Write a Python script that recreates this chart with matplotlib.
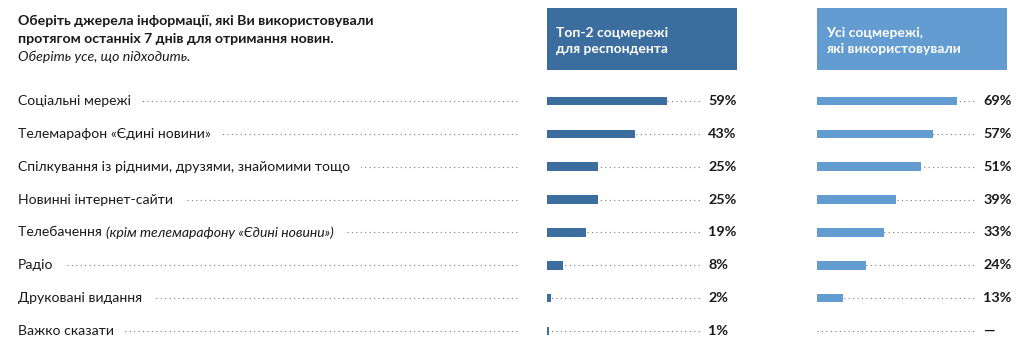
import matplotlib
matplotlib.use("Agg")
import matplotlib.pyplot as plt
from matplotlib.patches import Rectangle
import numpy as np

plt.rcParams["font.family"] = ["Lato", "DejaVu Sans"]

# ---------------- data ----------------
categories = [
    "Соціальні мережі",
    "Телемарафон «Єдині новини»",
    "Спілкування із рідними, друзями, знайомими тощо",
    "Новинні інтернет-сайти",
    "Телебачення",
    "Радіо",
    "Друковані видання",
    "Важко сказати",
]
top2 = [59, 43, 25, 25, 19, 8, 2, 1]
all_used = [69, 57, 51, 39, 33, 24, 13, np.nan]
header_left = "Топ-2 соцмережі\nдля респондента"
header_right = "Усі соцмережі,\nякі використовували"

DARK = "#3b6e9f"
LIGHT = "#639cd0"
DOT = "#7a7a7a"
TXT = "#1a1a1a"

W, H = 1024, 353
fig = plt.figure(figsize=(W / 100, H / 100), dpi=100)


def fx(px):
    return px / W


def fy(py):
    return 1 - py / H


# rows occupy the same vertical band in every axes
top_px, bot_px = 84.5, 347.5
n = len(categories)
LAB_FS = 10.1


def make_ax(x0, x1):
    ax = fig.add_axes([fx(x0), fy(bot_px), fx(x1) - fx(x0), (bot_px - top_px) / H])
    ax.set_ylim(n - 0.5, -0.5)
    ax.axis("off")
    return ax


# ---------------- title ----------------
fig.text(fx(18), fy(21), "Оберіть джерела інформації, які Ви використовували",
         fontsize=10.2, fontweight="bold", color=TXT, va="center")
fig.text(fx(18), fy(39), "протягом останніх 7 днів для отримання новин.",
         fontsize=10.2, fontweight="bold", color=TXT, va="center")
fig.text(fx(18), fy(57), "Оберіть усе, що підходить.",
         fontsize=10.2, style="italic", color=TXT, va="center")

# ---------------- labels column ----------------
ax_lab = make_ax(18, 520)
ax_lab.set_xlim(0, 1)
fig.canvas.draw()
for i, cat in enumerate(categories):
    ax_lab.plot([0, 1], [i, i], color=DOT, lw=0.8, ls=(0, (1, 3)), zorder=1)
    if cat == "Телебачення":
        t = ax_lab.text(0, i, cat + " ", fontsize=LAB_FS, color=TXT, va="center", zorder=4,
                        bbox=dict(facecolor="white", edgecolor="none", boxstyle="square,pad=0"))
        bb = t.get_window_extent(fig.canvas.get_renderer()).transformed(ax_lab.transData.inverted())
        ax_lab.text(bb.x1, i, "(крім телемарафону «Єдині новини»)", fontsize=LAB_FS,
                    style="italic", color=TXT, va="center", zorder=3,
                    bbox=dict(facecolor="white", edgecolor="none", boxstyle="square,pad=0.8"))
    else:
        ax_lab.text(0, i, cat, fontsize=LAB_FS, color=TXT, va="center", zorder=3,
                    bbox=dict(facecolor="white", edgecolor="none", boxstyle="square,pad=0.8"))


# ---------------- bar panels ----------------
def panel(x0, x1, box_x1, values, color, header):
    px_per_pct = 2.035
    ax = make_ax(x0, x1)
    ax.set_xlim(0, (x1 - x0) / px_per_pct)
    y = np.arange(n)
    for i in range(n):
        ax.plot([0, ax.get_xlim()[1]], [i, i], color=DOT, lw=0.8, ls=(0, (1, 3)), zorder=1)
    vals = np.array(values, dtype=float)
    ax.barh(y, np.nan_to_num(vals), height=0.26, color=color, zorder=2)
    for i, v in enumerate(vals):
        lab = "—" if np.isnan(v) else f"{int(v)}%"
        ax.annotate(lab, xy=(1, i), xycoords=("axes fraction", "data"),
                    xytext=(6, 0), textcoords="offset points",
                    fontsize=10.4, fontweight="bold", color=TXT, va="center", ha="left")
    # header box
    fig.patches.append(Rectangle((fx(x0), fy(70)), fx(box_x1) - fx(x0), (70 - 8) / H,
                                 transform=fig.transFigure, facecolor=color,
                                 edgecolor="none"))
    fig.text(fx(x0 + 9), fy(41), header, fontsize=10, fontweight="bold",
             color="white", va="center", linespacing=1.4)
    return ax


panel(547, 700, 737, top2, DARK, header_left)
panel(817, 975, 1007, all_used, LIGHT, header_right)

fig.savefig("out.png", dpi=100)
